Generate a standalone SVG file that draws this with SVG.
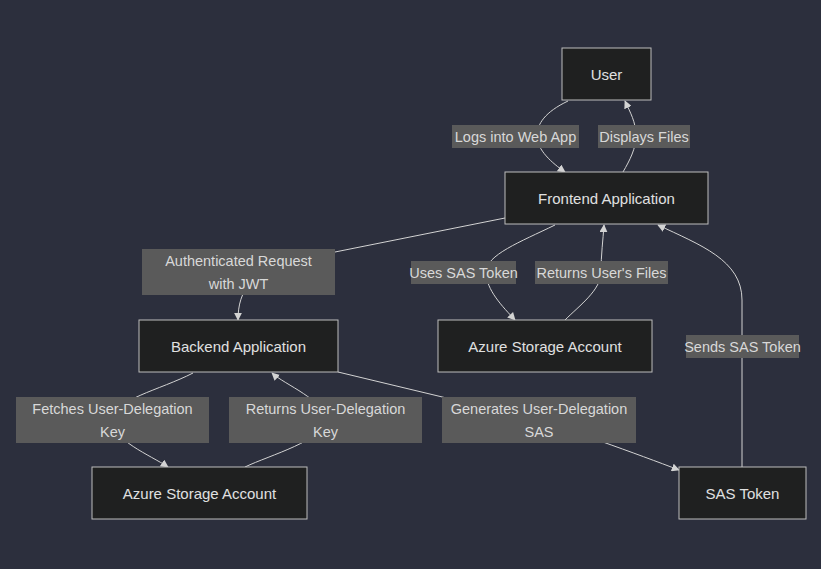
<svg xmlns="http://www.w3.org/2000/svg" width="821" height="569" viewBox="0 0 821 569">
<style>
.bg{fill:#2c2f3d}
.node rect{fill:#1f2020;stroke:#bdbdbd;stroke-width:1}
.node text{fill:#e0e0e0;font-family:"Liberation Sans",Arial,sans-serif;font-size:15px;text-anchor:middle;dominant-baseline:central}
.edge{fill:none;stroke:#d3d3d3;stroke-width:1}
.lbl rect{fill:#5a5a5a}
.lbl text{fill:#d8d8d8;font-family:"Liberation Sans",Arial,sans-serif;font-size:14.5px;text-anchor:middle;dominant-baseline:central}
</style>
<defs>
<marker id="ah" viewBox="0 0 10 10" refX="9" refY="5" markerWidth="8" markerHeight="8" orient="auto" markerUnits="userSpaceOnUse">
<path d="M0,0 L10,5 L0,10 z" fill="#d3d3d3"/>
</marker>
</defs>
<rect class="bg" x="0" y="0" width="821" height="569"/>
<g id="connectors">
<path class="edge" marker-end="url(#ah)" d="M568,101 C545,112 537,124 537,136 C537,150 552,163 565,172"/>
<path class="edge" marker-end="url(#ah)" d="M623,172 C630,160 636,148 636,136 C636,122 630,112 625,101"/>
<path class="edge" marker-end="url(#ah)" d="M505,218 L300,259 C252,269 238,290 238,320"/>
<path class="edge" marker-end="url(#ah)" d="M555,225 C520,242 486,255 486,272 C486,290 503,307 515,320"/>
<path class="edge" marker-end="url(#ah)" d="M565,320 C580,305 601,290 601,272 C601,255 603,240 604,225"/>
<path class="edge" marker-end="url(#ah)" d="M742,467 L742,300 C742,260 700,245 658,225"/>
<path class="edge" marker-end="url(#ah)" d="M193,373 C160,390 112,400 112,420 C112,440 150,455 168,467"/>
<path class="edge" marker-end="url(#ah)" d="M245,467 C270,455 325,440 325,420 C325,400 285,385 272,373"/>
<path class="edge" marker-end="url(#ah)" d="M338,372 L530,418 C560,426 640,455 679,470"/>
</g>
<g id="edge-labels">
<g class="lbl"><rect x="452" y="125" width="127" height="23"/><text x="515.5" y="136.5">Logs into Web App</text></g>
<g class="lbl"><rect x="598" y="125" width="92" height="23"/><text x="644" y="136.5">Displays Files</text></g>
<g class="lbl"><rect x="142" y="249" width="193" height="46"/><text x="238.5" y="260.5">Authenticated Request</text><text x="238.5" y="284">with JWT</text></g>
<g class="lbl"><rect x="411" y="261" width="105" height="23"/><text x="463.5" y="272.5">Uses SAS Token</text></g>
<g class="lbl"><rect x="535" y="261" width="133" height="23"/><text x="601.5" y="272.5">Returns User's Files</text></g>
<g class="lbl"><rect x="686" y="335" width="113" height="23"/><text x="742.5" y="346.5">Sends SAS Token</text></g>
<g class="lbl"><rect x="16" y="397" width="193" height="46"/><text x="112.5" y="408.5">Fetches User-Delegation</text><text x="112.5" y="432">Key</text></g>
<g class="lbl"><rect x="229" y="397" width="193" height="46"/><text x="325.5" y="408.5">Returns User-Delegation</text><text x="325.5" y="432">Key</text></g>
<g class="lbl"><rect x="442" y="397" width="194" height="46"/><text x="539" y="408.5">Generates User-Delegation</text><text x="539" y="432">SAS</text></g>
</g>
<g id="user" class="node"><rect x="562" y="48" width="89" height="52"/><text x="606.5" y="74">User</text></g>
<g id="frontend" class="node"><rect x="505" y="172" width="203" height="52"/><text x="606.5" y="198">Frontend Application</text></g>
<g id="backend" class="node"><rect x="139" y="320" width="199" height="52"/><text x="238.5" y="346">Backend Application</text></g>
<g id="storage1" class="node"><rect x="438" y="320" width="214" height="52"/><text x="545" y="346">Azure Storage Account</text></g>
<g id="storage2" class="node"><rect x="92" y="467" width="215" height="52"/><text x="199.5" y="493">Azure Storage Account</text></g>
<g id="sastoken" class="node"><rect x="679" y="467" width="127" height="52"/><text x="742.5" y="493">SAS Token</text></g>
</svg>
